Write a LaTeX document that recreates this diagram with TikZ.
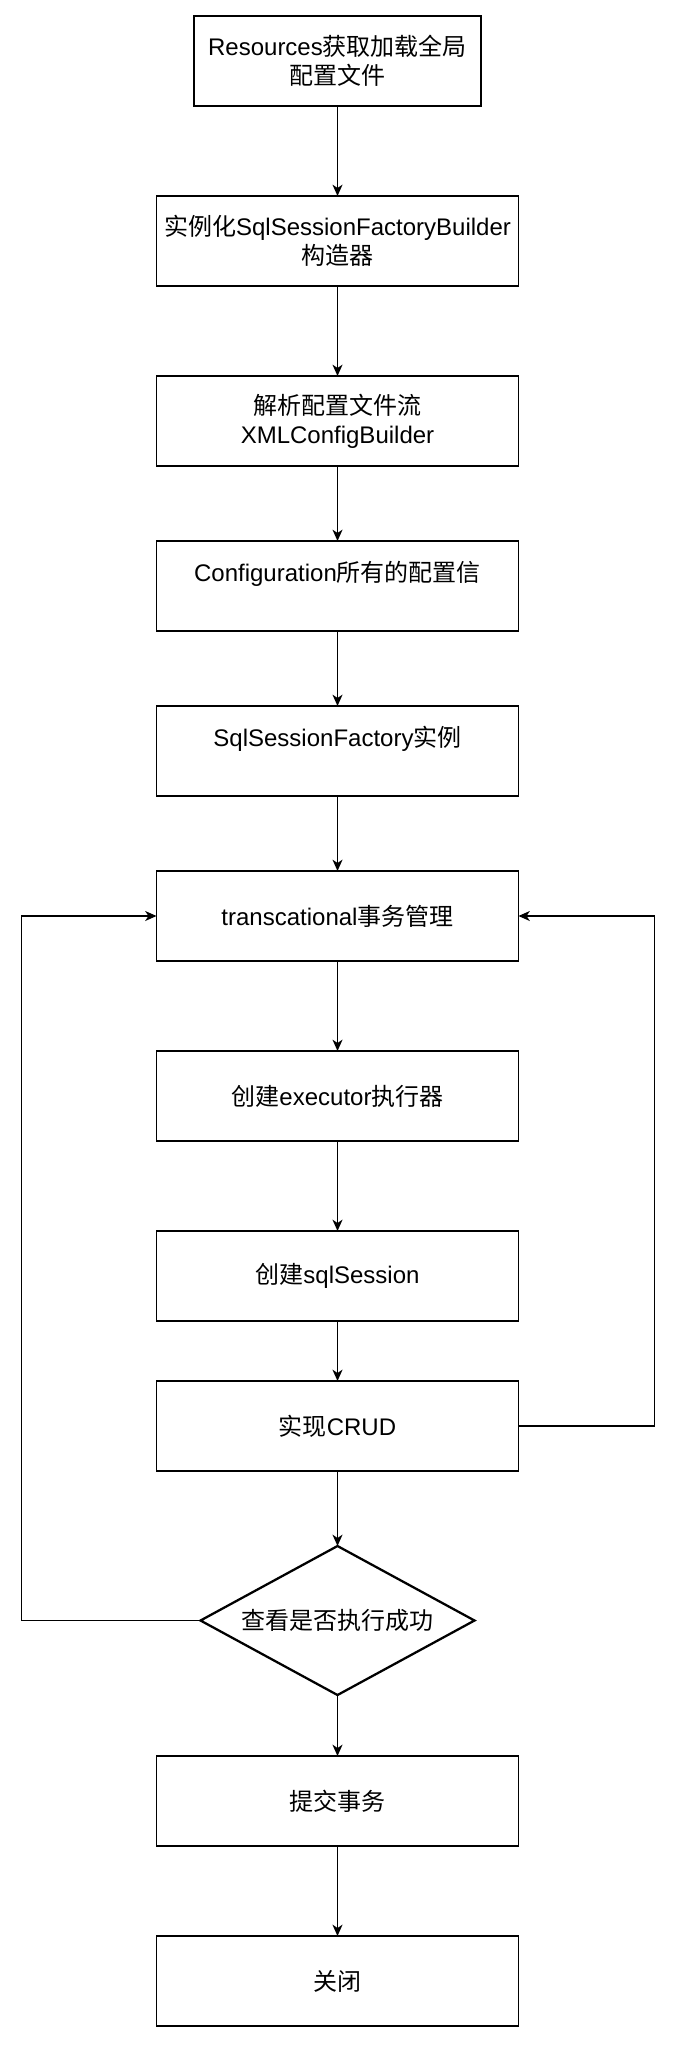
\documentclass[tikz,border=0pt]{standalone}
\usepackage{fontspec}
\setmainfont{Liberation Sans}
\newfontfamily\cjk{Noto Sans CJK SC}
\newcommand{\zh}[1]{{\cjk #1}}
\usetikzlibrary{arrows.meta,positioning,shapes.geometric}

\begin{document}
\begin{tikzpicture}[x=0.75pt,y=-0.75pt,
		process/.style={rectangle,draw=black,line width=1pt,inner sep=0pt,outer sep=0pt,
			minimum width=271.5pt,minimum height=67.5pt,align=center,
			font=\fontsize{18pt}{21.75pt}\selectfont},
		decision/.style={diamond,draw=black,line width=1.7pt,inner sep=0pt,outer sep=0pt,aspect=1.84,
			minimum width=205.5pt,minimum height=111.75pt,font=\fontsize{18pt}{21.75pt}\selectfont},
		back/.style={draw=black,line width=1pt,{Stealth[length=8.5pt,width=7.5pt,inset=2.5pt]}-},
		flow/.style={draw=black,line width=1pt,-{Stealth[length=8.5pt,width=7.5pt,inset=2.5pt]}}]

		\useasboundingbox (0,0) rectangle (675,2048);

		\node[process,minimum width=215.25pt] (res) at (337.5,61) {Resources\zh{获取加载全局}\\\zh{配置文件}};
		\node[process] (builder) [below=67.5pt of res] {\zh{实例化}SqlSessionFactoryBuilder\\\zh{构造器}}
			edge[back] (res);
		\node[process] (parse) [below=67.5pt of builder] {\zh{解析配置文件流}\\XMLConfigBuilder}
			edge[back] (builder);
		\node[process] (config) [below=56.25pt of parse] {Configuration\zh{所有的配置信}\\~}
			edge[back] (parse);
		\node[process] (factory) [below=56.25pt of config] {SqlSessionFactory\zh{实例}\\~}
			edge[back] (config);
		\node[process] (trans) [below=56.25pt of factory] {transcational\zh{事务管理}}
			edge[back] (factory);
		\node[process] (exec) [below=67.5pt of trans] {\zh{创建}executor\zh{执行器}}
			edge[back] (trans);
		\node[process] (session) [below=67.5pt of exec] {\zh{创建}sqlSession}
			edge[back] (exec);
		\node[process] (crud) [below=45pt of session] {\zh{实现}CRUD}
			edge[back] (session);
		\node[decision] (check) [below=56.25pt of crud] {\zh{查看是否执行成功}}
			edge[back] (crud);
		\node[process] (commit) [below=45.75pt of check] {\zh{提交事务}}
			edge[back] (check);
		\node[process] (shut) [below=67.5pt of commit] {\zh{关闭}}
			edge[back] (commit);

		% loops back to the transaction box
		\draw[flow] (check.west) -- ++(-179,0) |- (trans.west);
		\draw[flow] (crud.east) -- ++(136,0) |- (trans.east);
	\end{tikzpicture}
\end{document}
